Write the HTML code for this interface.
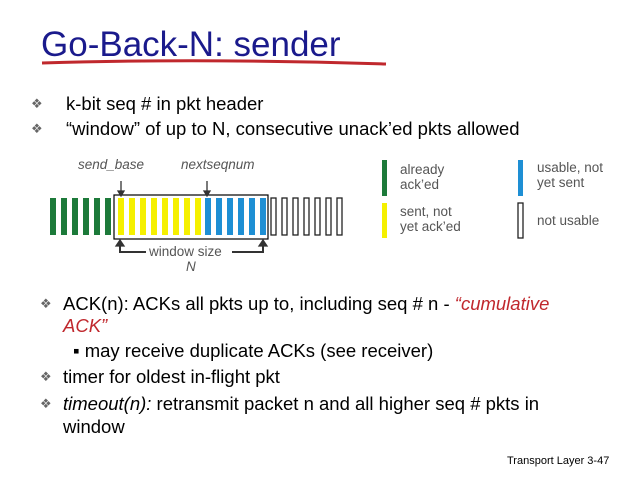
<!DOCTYPE html>
<html><head><meta charset="utf-8"><style>
body{margin:0;width:638px;height:479px;background:#fff;position:relative;overflow:hidden;font-family:"Liberation Sans",sans-serif;}
.a{position:absolute;white-space:nowrap;}
.t{font-size:35px;color:#1a1a8c;left:41px;top:25px;}
.b{font-size:18.5px;color:#000;}
.d{position:absolute;font-size:13px;color:#666;}
.g{font-size:13.5px;color:#555;line-height:15px;}
</style></head><body>
<div class="a t">Go-Back-N: sender</div>
<svg class="a" style="left:0;top:0" width="638" height="479">
<path d="M42 63 Q200 58 386 64" stroke="#c0282d" stroke-width="3" fill="none"/>
<rect x="114" y="195" width="154" height="44" fill="none" stroke="#000" stroke-width="1.2"/>
<g fill="#1d7a3a"><rect x="50" y="198" width="6" height="37"/><rect x="61" y="198" width="6" height="37"/><rect x="72" y="198" width="6" height="37"/><rect x="83" y="198" width="6" height="37"/><rect x="94" y="198" width="6" height="37"/><rect x="105" y="198" width="6" height="37"/></g>
<g fill="#f5f000"><rect x="118" y="198" width="6" height="37"/><rect x="129" y="198" width="6" height="37"/><rect x="140" y="198" width="6" height="37"/><rect x="151" y="198" width="6" height="37"/><rect x="162" y="198" width="6" height="37"/><rect x="173" y="198" width="6" height="37"/><rect x="184" y="198" width="6" height="37"/><rect x="195" y="198" width="6" height="37"/></g>
<g fill="#1e8fd4"><rect x="205" y="198" width="6" height="37"/><rect x="216" y="198" width="6" height="37"/><rect x="227" y="198" width="6" height="37"/><rect x="238" y="198" width="6" height="37"/><rect x="249" y="198" width="6" height="37"/><rect x="260" y="198" width="6" height="37"/></g>
<g fill="none" stroke="#222" stroke-width="1.3"><rect x="271" y="198" width="5" height="37"/><rect x="282" y="198" width="5" height="37"/><rect x="293" y="198" width="5" height="37"/><rect x="304" y="198" width="5" height="37"/><rect x="315" y="198" width="5" height="37"/><rect x="326" y="198" width="5" height="37"/><rect x="337" y="198" width="5" height="37"/></g>
<g stroke="#333" stroke-width="1.3" fill="#333">
<line x1="121" y1="181" x2="121" y2="192"/><path d="M118 191 L124 191 L121 196Z"/>
<line x1="207" y1="181" x2="207" y2="192"/><path d="M204 191 L210 191 L207 196Z"/>
<polyline points="120,244 120,252 146,252" fill="none" stroke-width="2"/><path d="M116 246 L124 246 L120 240Z"/>
<polyline points="232,252 263,252 263,244" fill="none" stroke-width="2"/><path d="M259 246 L267 246 L263 240Z"/>
</g>
<rect x="382" y="160" width="5" height="36" fill="#1d7a3a"/>
<rect x="382" y="203" width="5" height="35" fill="#f5f000"/>
<rect x="518" y="160" width="5" height="36" fill="#1e8fd4"/>
<rect x="518" y="203" width="5" height="35" fill="none" stroke="#222" stroke-width="1.3"/>
</svg>
<div class="a g" style="left:78px;top:157px;font-style:italic">send_base</div>
<div class="a g" style="left:181px;top:157px;font-style:italic">nextseqnum</div>
<div class="a g" style="left:149px;top:244px">window size</div>
<div class="a g" style="left:186px;top:259px;font-style:italic">N</div>
<div class="a g" style="left:400px;top:162px">already<br>ack’ed</div>
<div class="a g" style="left:400px;top:204px">sent, not<br>yet ack’ed</div>
<div class="a g" style="left:537px;top:160px">usable, not<br>yet sent</div>
<div class="a g" style="left:537px;top:213px">not usable</div>
<div class="d" style="left:31px;top:96px">❖</div><div class="a b" style="left:66px;top:93px">k-bit seq # in pkt header</div>
<div class="d" style="left:31px;top:121px">❖</div><div class="a b" style="left:66px;top:118px">“window” of up to N, consecutive unack’ed pkts allowed</div>
<div class="d" style="left:40px;top:296px">❖</div><div class="a b" style="left:63px;top:293px">ACK(n): ACKs all pkts up to, including seq # n - <i style="color:#c0282d">“cumulative</i></div>
<div class="a b" style="left:63px;top:315px;color:#c0282d;font-style:italic">ACK”</div>
<div class="a b" style="left:73px;top:340px">▪ may receive duplicate ACKs (see receiver)</div>
<div class="d" style="left:40px;top:369px">❖</div><div class="a b" style="left:63px;top:366px">timer for oldest in-flight pkt</div>
<div class="d" style="left:40px;top:396px">❖</div><div class="a b" style="left:63px;top:393px"><i>timeout(n):</i> retransmit packet n and all higher seq # pkts in</div>
<div class="a b" style="left:63px;top:416px">window</div>
<div class="a" style="left:507px;top:455px;font-size:11px">Transport Layer 3-47</div>
</body></html>
